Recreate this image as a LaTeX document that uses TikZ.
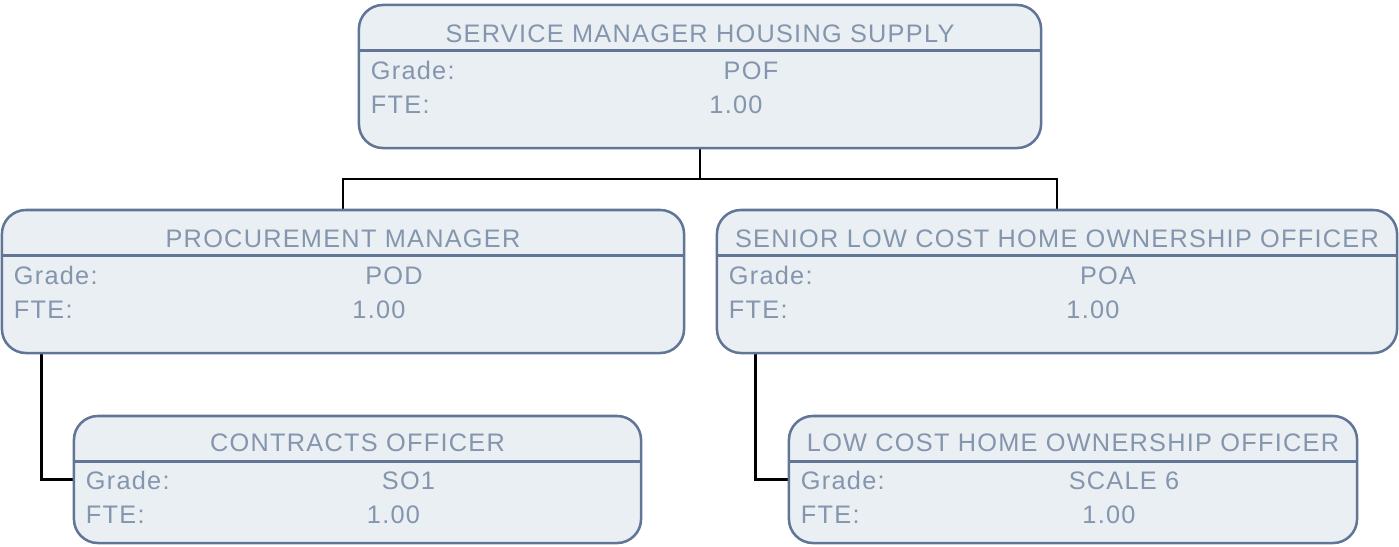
\documentclass[tikz,border=0pt]{standalone}
\usepackage{fontspec}
\setmainfont{Liberation Sans}[LetterSpace=5]
\usetikzlibrary{calc,backgrounds}
\definecolor{boxfill}{HTML}{EAEFF3}
\definecolor{boxline}{HTML}{617697}
\definecolor{boxtext}{HTML}{8495AE}
\begin{document}
\begin{tikzpicture}[
        x=0.025cm, y=-0.025cm,
        box/.style={rectangle, rounded corners=0.6cm, draw=boxline, fill=boxfill, line width=1.8pt, inner sep=0pt},
        bigbox/.style={box, minimum width=17.05cm, minimum height=3.575cm},
        smallbox/.style={box, minimum width=14.175cm, minimum height=3.175cm},
        sep/.style={draw=boxline, line width=1.8pt},
        txt/.style={font=\fontsize{18}{21}\selectfont, text=boxtext, inner sep=0pt},
        title/.style={txt, anchor=base},
        field/.style={txt, anchor=base west},
        value/.style={txt, anchor=base},
        link/.style={line width=1.7pt, black}
    ]
        \useasboundingbox (0,0) rectangle (1399,546);

        % Service manager
        \node (smhs) [bigbox] at (700,76.5) {};
        \draw[sep] ($(smhs.north west)+(0,47)$) -- ($(smhs.north east)+(0,47)$);
        \node (smhs-title) [title] at ($(smhs.north)+(0,38.5)$) {SERVICE MANAGER HOUSING SUPPLY};
        \node (smhs-grade) [field] at ($(smhs.north west)+(13,76)$) {Grade:};
        \node (smhs-gradev) [value] at ($(smhs.north)+(51,76)$) {POF};
        \node (smhs-fte) [field] at ($(smhs.north west)+(13,110)$) {FTE:};
        \node (smhs-ftev) [value] at ($(smhs.north)+(36,110)$) {1.00};

        % Procurement manager
        \node (pm) [bigbox] at (343,281.5) {};
        \draw[sep] ($(pm.north west)+(0,47)$) -- ($(pm.north east)+(0,47)$);
        \node (pm-title) [title] at ($(pm.north)+(0,38.5)$) {PROCUREMENT MANAGER};
        \node (pm-grade) [field] at ($(pm.north west)+(13,76)$) {Grade:};
        \node (pm-gradev) [value] at ($(pm.north)+(51,76)$) {POD};
        \node (pm-fte) [field] at ($(pm.north west)+(13,110)$) {FTE:};
        \node (pm-ftev) [value] at ($(pm.north)+(36,110)$) {1.00};

        % Senior low cost home ownership officer
        \node (slcho) [bigbox, minimum width=17cm] at (1057,281.5) {};
        \draw[sep] ($(slcho.north west)+(0,47)$) -- ($(slcho.north east)+(0,47)$);
        \node (slcho-title) [title] at ($(slcho.north)+(0,38.5)$) {SENIOR LOW COST HOME OWNERSHIP OFFICER};
        \node (slcho-grade) [field] at ($(slcho.north west)+(13,76)$) {Grade:};
        \node (slcho-gradev) [value] at ($(slcho.north)+(51,76)$) {POA};
        \node (slcho-fte) [field] at ($(slcho.north west)+(13,110)$) {FTE:};
        \node (slcho-ftev) [value] at ($(slcho.north)+(36,110)$) {1.00};

        % Contracts officer
        \node (co) [smallbox] at (357.5,479.5) {};
        \draw[sep] ($(co.north west)+(0,47)$) -- ($(co.north east)+(0,47)$);
        \node (co-title) [title] at ($(co.north)+(0,37)$) {CONTRACTS OFFICER};
        \node (co-grade) [field] at ($(co.north west)+(13,75)$) {Grade:};
        \node (co-gradev) [value] at ($(co.north)+(51,75)$) {SO1};
        \node (co-fte) [field] at ($(co.north west)+(13,109)$) {FTE:};
        \node (co-ftev) [value] at ($(co.north)+(36,109)$) {1.00};

        % Low cost home ownership officer
        \node (lcho) [smallbox, minimum width=14.2cm] at (1073,479.5) {};
        \draw[sep] ($(lcho.north west)+(0,47)$) -- ($(lcho.north east)+(0,47)$);
        \node (lcho-title) [title] at ($(lcho.north)+(0,37)$) {LOW COST HOME OWNERSHIP OFFICER};
        \node (lcho-grade) [field] at ($(lcho.north west)+(13,75)$) {Grade:};
        \node (lcho-gradev) [value] at ($(lcho.north)+(51,75)$) {SCALE 6};
        \node (lcho-fte) [field] at ($(lcho.north west)+(13,109)$) {FTE:};
        \node (lcho-ftev) [value] at ($(lcho.north)+(36,109)$) {1.00};

        % Connections
        \begin{scope}[on background layer]
            \coordinate (split) at (700,179);
            \draw[link] (smhs.south) -- (split) -| (pm.north);
            \draw[link] (split) -| (slcho.north);
            \draw[link] ($(pm.south west)+(41,0)$) |- (co.west);
            \draw[link] ($(slcho.south west)+(40,0)$) |- (lcho.west);
        \end{scope}
    \end{tikzpicture}
\end{document}
